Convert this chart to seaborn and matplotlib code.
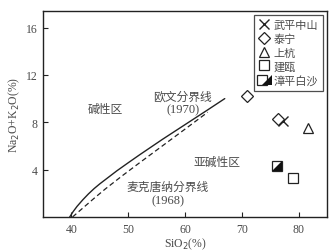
import numpy as np
import pandas as pd
import seaborn as sns
import matplotlib.pyplot as plt
from matplotlib.lines import Line2D
from matplotlib.legend_handler import HandlerTuple

# boundary lines
irvine_x = [39.7, 40.3, 41.0, 42.0, 43.0, 44.0, 45.0, 46.5, 48.0, 50.0, 52.0, 56.0, 60.0, 64.0, 67.0]
irvine_y = [0.0, 0.45, 0.9, 1.45, 1.95, 2.4, 2.8, 3.35, 3.9, 4.58, 5.25, 6.55, 7.8, 9.05, 10.0]
macd_x = [40.2, 42.0, 44.0, 46.0, 49.0, 52.0, 56.0, 60.0, 64.0]
macd_y = [0.0, 0.75, 1.58, 2.38, 3.5, 4.58, 6.0, 7.42, 8.85]

# samples
names = ['武平中山', '泰宁', '泰宁', '上杭', '建瓯', '漳平白沙']
sio2 = [77.3, 71.0, 76.4, 81.6, 79.1, 76.2]
alk = [8.1, 10.2, 8.3, 7.5, 3.3, 4.3]
legend_names = ['武平中山', '泰宁', '上杭', '建瓯', '漳平白沙']

df = pd.DataFrame({'SiO2': sio2, 'ALK': alk, 'name': names})

sns.set_style('ticks')
plt.rcParams['font.family'] = ['Liberation Serif', 'Noto Sans CJK SC']
cjk = ['Noto Sans CJK SC']
grey = '#4a4a4a'
ink = '#222222'

fig = plt.figure(figsize=(3.34, 2.53), dpi=100)
ax = fig.add_axes([43 / 334, 35 / 253, 284 / 334, 206 / 253])

sns.lineplot(x=irvine_x, y=irvine_y, ax=ax, color=ink, lw=1.0, sort=False)
sns.lineplot(x=macd_x, y=macd_y, ax=ax, color=ink, lw=0.9, ls=(0, (4, 2.5)), sort=False)

markers = {'武平中山': 'x', '泰宁': 'D', '上杭': '^', '建瓯': 's', '漳平白沙': 's'}
sizes = {'武平中山': 6.5, '泰宁': 6.5, '上杭': 7.5, '建瓯': 7.5, '漳平白沙': 7.5}
tri = [(1, 1), (1, -1), (-1, -1)]
handles = []
for nm in legend_names:
    sub = df[df['name'] == nm]
    ms = sizes[nm]
    if nm == '武平中山':
        ax.plot(sub['SiO2'], sub['ALK'], ls='none', marker='x', ms=ms, color=ink, mew=1.0)
        handles.append(Line2D([], [], ls='none', marker='x', ms=ms, color=ink, mew=1.0))
    elif nm == '漳平白沙':
        ax.plot(sub['SiO2'], sub['ALK'], ls='none', marker='s', ms=ms, mfc='white', mec=ink, mew=0.9)
        ax.plot(sub['SiO2'], sub['ALK'], ls='none', marker=tri, ms=ms * 0.88, color='#111111', mew=0)
        h1 = Line2D([], [], ls='none', marker='s', ms=ms, mfc='white', mec=ink, mew=0.9)
        h2 = Line2D([], [], ls='none', marker=tri, ms=ms * 0.88, color='#111111', mew=0)
        handles.append((h1, h2))
    else:
        mk = markers[nm]
        ax.plot(sub['SiO2'], sub['ALK'], ls='none', marker=mk, ms=ms, mfc='white', mec=ink, mew=0.9)
        handles.append(Line2D([], [], ls='none', marker=mk, ms=ms, mfc='white', mec=ink, mew=0.9))

leg = ax.legend(handles, legend_names, loc='upper right', bbox_to_anchor=(0.993, 0.99),
                handler_map={tuple: HandlerTuple(ndivide=None, pad=0)},
                prop={'family': cjk, 'size': 8}, frameon=True, fancybox=False,
                edgecolor=ink, handlelength=0.9, handletextpad=0.35,
                labelspacing=0.3, borderpad=0.45, borderaxespad=0.2)
leg.get_frame().set_linewidth(0.9)
for t in leg.get_texts():
    t.set_color(grey)

ax.text(45.9, 9.2, '碱性区', family=cjk, fontsize=8.5, color=grey, ha='center', va='center')
ax.text(59.6, 10.25, '欧文分界线', family=cjk, fontsize=8.5, color=grey, ha='center', va='center')
ax.text(59.6, 9.1, '(1970)', fontsize=9, color=grey, ha='center', va='center')
ax.text(65.6, 4.65, '亚碱性区', family=cjk, fontsize=8.5, color=grey, ha='center', va='center')
ax.text(57.0, 2.6, '麦克唐纳分界线', family=cjk, fontsize=8.5, color=grey, ha='center', va='center')
ax.text(57.0, 1.45, '(1968)', fontsize=9, color=grey, ha='center', va='center')

ax.set_xlim(35, 85)
ax.set_ylim(0, 17.4)
ax.set_xticks([40, 50, 60, 70, 80])
ax.set_yticks([4, 8, 12, 16])
ax.tick_params(direction='in', length=3.5, width=0.8, labelsize=8.5, colors=ink,
               labelcolor=grey, pad=4)
for s in ax.spines.values():
    s.set_linewidth(1.0)
    s.set_color(ink)

ax.set_xlabel('SiO$_2$(%)', fontsize=8.5, color=grey, labelpad=1)
ax.set_ylabel('Na$_2$O+K$_2$O(%)', fontsize=8.5, color=grey, labelpad=3)

fig.savefig('out.png', dpi=100)
